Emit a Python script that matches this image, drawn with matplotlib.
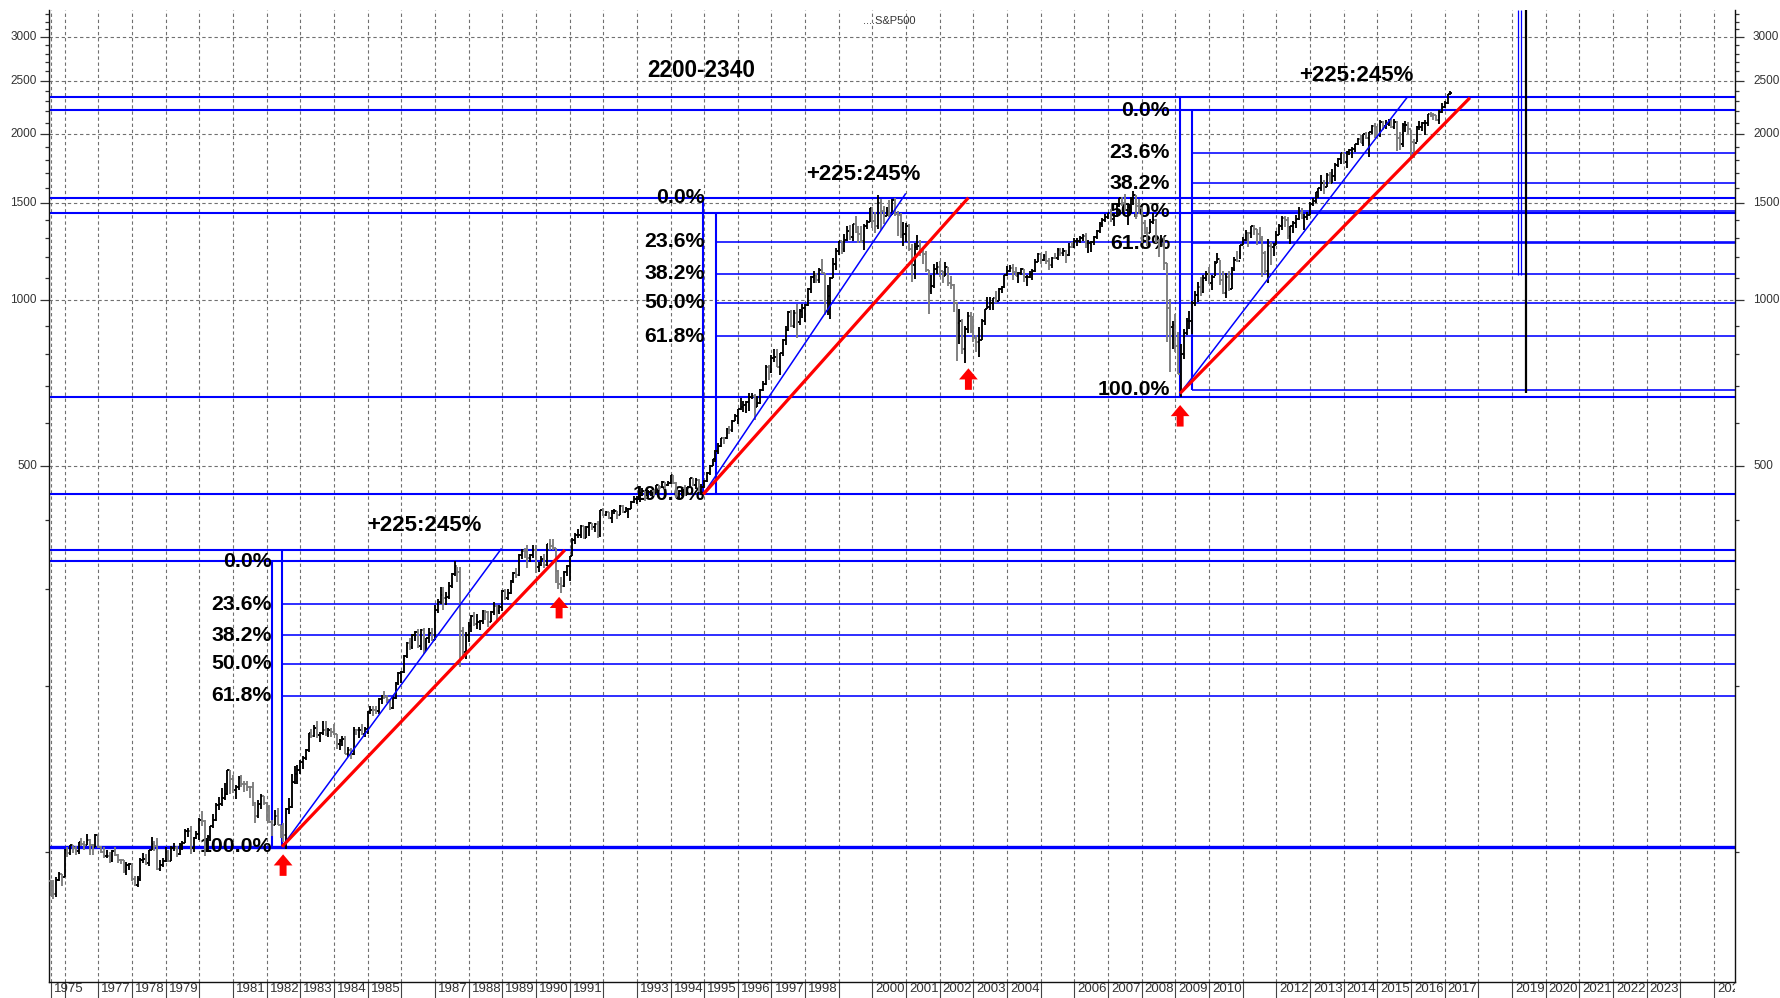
import numpy as np
import matplotlib
matplotlib.use("Agg")
import matplotlib.pyplot as plt
from matplotlib.collections import LineCollection
from matplotlib.ticker import FixedLocator, NullFormatter
from matplotlib.transforms import Bbox, TransformedBbox, blended_transform_factory

plt.rcParams['font.family'] = ['Liberation Sans', 'DejaVu Sans']

# ---------------- data: S&P500 monthly bars (Aug 1975 .. Mar 2017) ----------------
start_year, start_month = 1975, 8
first_open = 88.75

month_close = [
    86.9, 83.9, 89.0, 91.2, 90.2,
    100.9, 99.7, 102.8, 101.6, 100.2, 104.3, 103.4, 102.9, 105.2, 102.9, 102.1, 107.5,
    102.0, 99.8, 98.4, 98.4, 96.1, 100.5, 98.9, 96.8, 96.5, 92.3, 94.8, 95.1,
    89.3, 87.0, 89.2, 96.8, 97.2, 95.5, 100.7, 103.3, 102.5, 93.2, 94.7, 96.1,
    99.9, 96.3, 101.6, 101.8, 99.1, 102.9, 103.8, 109.3, 109.3, 101.8, 106.2, 107.9,
    114.2, 113.7, 102.1, 106.3, 111.2, 114.2, 121.7, 122.4, 125.5, 127.5, 140.5, 135.8,
    129.6, 131.3, 136.0, 132.8, 132.6, 131.2, 130.9, 122.8, 116.2, 121.9, 126.4, 122.6,
    120.4, 113.1, 112.0, 116.4, 111.9, 109.6, 107.1, 119.5, 120.4, 133.7, 138.5, 140.6,
    145.3, 148.1, 153.0, 164.4, 162.4, 168.1, 162.6, 164.4, 166.1, 163.6, 166.4, 164.9,
    163.4, 157.1, 159.2, 160.1, 150.6, 153.2, 150.7, 166.7, 166.1, 166.1, 163.6, 167.2,
    179.6, 181.2, 180.7, 179.8, 189.6, 191.9, 190.9, 188.6, 182.1, 189.8, 202.2, 211.3,
    211.8, 226.9, 238.9, 235.5, 247.4, 250.8, 236.1, 252.9, 231.3, 244.0, 249.2, 242.2,
    274.1, 284.2, 291.7, 288.4, 290.1, 304.0, 318.7, 329.8, 321.8, 251.8, 230.3, 247.1,
    257.1, 267.8, 258.9, 261.3, 262.2, 273.5, 272.0, 261.5, 271.9, 279.0, 273.7, 277.7,
    297.5, 288.9, 294.9, 309.6, 320.5, 318.0, 346.1, 351.5, 349.2, 340.4, 346.0, 353.4,
    329.1, 331.9, 339.9, 330.8, 361.2, 358.0, 356.2, 322.6, 306.1, 304.0, 322.2, 330.2,
    343.9, 367.1, 375.2, 375.4, 389.8, 371.2, 387.8, 395.4, 387.9, 392.5, 375.2, 417.1,
    408.8, 412.7, 403.7, 415.0, 415.4, 408.1, 424.2, 414.0, 417.8, 418.7, 431.4, 435.7,
    438.8, 443.4, 451.7, 440.2, 450.2, 450.5, 448.1, 463.6, 458.9, 467.8, 461.8, 466.5,
    481.6, 467.1, 445.8, 450.9, 456.5, 444.3, 458.3, 475.5, 462.7, 472.4, 453.7, 459.3,
    470.4, 487.4, 500.7, 514.7, 533.4, 544.8, 562.1, 561.9, 584.4, 581.5, 605.4, 615.9,
    636.0, 640.4, 645.5, 654.2, 669.1, 670.6, 640.0, 652.0, 687.3, 705.3, 757.0, 740.7,
    786.2, 790.8, 757.1, 801.3, 848.3, 885.1, 954.3, 899.5, 947.3, 914.6, 955.4, 970.4,
    980.3, 1049.3, 1101.8, 1111.8, 1090.8, 1133.8, 1120.7, 957.3, 1017.0, 1098.7, 1163.6, 1229.2,
    1279.6, 1238.3, 1286.4, 1335.2, 1301.8, 1372.7, 1328.7, 1320.4, 1282.7, 1362.9, 1388.9, 1469.3,
    1394.5, 1366.4, 1498.6, 1452.4, 1420.6, 1454.6, 1430.8, 1517.7, 1436.5, 1429.4, 1315.0, 1320.3,
    1366.0, 1239.9, 1160.3, 1249.5, 1255.8, 1224.4, 1211.2, 1133.6, 1040.9, 1059.8, 1139.5, 1148.1,
    1130.2, 1106.7, 1147.4, 1076.9, 1067.1, 989.8, 911.6, 916.1, 815.3, 885.8, 936.3, 879.8,
    855.7, 841.2, 848.2, 916.9, 963.6, 974.5, 990.3, 1008.0, 996.0, 1050.7, 1058.2, 1111.9,
    1131.1, 1144.9, 1126.2, 1107.3, 1120.7, 1140.8, 1101.7, 1104.2, 1114.6, 1130.2, 1173.8, 1211.9,
    1181.3, 1203.6, 1180.6, 1156.9, 1191.5, 1191.3, 1234.2, 1220.3, 1228.8, 1207.0, 1249.5, 1248.3,
    1280.1, 1280.7, 1294.8, 1310.6, 1270.1, 1270.2, 1276.7, 1303.8, 1335.9, 1377.9, 1400.6, 1418.3,
    1438.2, 1406.8, 1420.9, 1482.4, 1530.6, 1503.4, 1455.3, 1474.0, 1526.8, 1549.4, 1481.1, 1468.4,
    1378.6, 1330.6, 1322.7, 1385.6, 1400.4, 1280.0, 1267.4, 1282.8, 1166.4, 968.8, 896.2, 903.3,
    825.9, 735.1, 797.9, 872.8, 919.1, 919.3, 987.5, 1020.6, 1057.1, 1036.2, 1095.6, 1115.1,
    1073.9, 1104.5, 1169.4, 1186.7, 1089.4, 1030.7, 1101.6, 1049.3, 1141.2, 1183.3, 1180.6, 1257.6,
    1286.1, 1327.2, 1325.8, 1363.6, 1345.2, 1320.6, 1292.3, 1218.9, 1131.4, 1253.3, 1247.0, 1257.6,
    1312.4, 1365.7, 1408.5, 1397.9, 1310.3, 1362.2, 1379.3, 1406.6, 1440.7, 1412.2, 1416.2, 1426.2,
    1498.1, 1514.7, 1569.2, 1597.6, 1630.7, 1606.3, 1685.7, 1633.0, 1681.6, 1756.5, 1805.8, 1848.4,
    1782.6, 1859.5, 1872.3, 1884.0, 1923.6, 1960.2, 1930.7, 2003.4, 1972.3, 2018.1, 2067.6, 2058.9,
    1995.0, 2104.5, 2067.9, 2085.5, 2107.4, 2063.1, 2103.8, 1972.2, 1920.0, 2079.4, 2080.4, 2043.9,
    1940.2, 1932.2, 2059.7, 2065.3, 2097.0, 2098.9, 2173.6, 2171.0, 2168.3, 2126.2, 2198.8, 2238.8,
    2278.9, 2363.6, 2375.0,
]

month_high = [
    89.0, 88.9, 90.0, 92.0, 91.3,
    101.3, 102.0, 103.0, 103.0, 102.6, 104.4, 105.9, 104.6, 107.8, 105.4, 103.2, 107.8,
    107.9, 102.3, 102.0, 101.0, 100.0, 101.0, 101.9, 99.2, 97.2, 96.5, 96.0, 95.5,
    95.1, 90.3, 90.4, 97.4, 99.7, 99.3, 101.0, 106.3, 104.8, 106.0, 96.5, 97.5,
    101.9, 100.7, 102.5, 104.0, 102.6, 103.8, 104.7, 109.9, 110.7, 111.3, 106.3, 109.1,
    115.2, 118.4, 114.1, 107.2, 111.6, 117.1, 122.5, 126.0, 130.4, 133.2, 141.0, 140.7,
    138.1, 132.0, 137.1, 138.1, 134.3, 134.2, 131.5, 133.9, 123.0, 124.0, 127.3, 126.5,
    123.0, 121.4, 114.4, 119.3, 119.9, 112.0, 112.8, 120.0, 125.0, 138.2, 143.1, 143.7,
    146.7, 149.4, 153.7, 164.4, 167.0, 170.0, 172.7, 165.0, 172.7, 172.7, 168.1, 167.7,
    170.4, 163.9, 160.2, 162.4, 162.1, 155.0, 154.4, 168.3, 167.4, 168.6, 170.4, 168.4,
    180.3, 183.9, 183.9, 183.6, 190.0, 192.5, 196.0, 192.9, 189.2, 191.5, 203.0, 212.0,
    213.0, 227.5, 240.0, 244.7, 248.0, 251.8, 253.3, 253.7, 254.9, 244.7, 254.9, 254.9,
    280.0, 287.7, 301.9, 301.9, 296.3, 308.9, 320.0, 336.8, 328.9, 328.0, 255.7, 250.0,
    261.1, 268.5, 272.0, 270.0, 263.8, 275.0, 274.0, 273.0, 273.0, 283.7, 280.0, 279.8,
    298.0, 300.1, 299.4, 311.0, 321.4, 327.0, 347.0, 354.0, 355.5, 360.0, 347.3, 359.8,
    360.6, 336.1, 344.5, 347.3, 362.3, 368.9, 369.8, 356.2, 324.0, 315.0, 323.0, 330.8,
    344.3, 370.7, 378.4, 385.6, 391.3, 389.9, 390.3, 396.6, 395.4, 394.2, 398.3, 417.1,
    420.8, 414.9, 412.7, 416.3, 419.0, 415.4, 424.8, 425.1, 422.4, 420.0, 432.2, 441.3,
    442.7, 449.6, 456.7, 451.7, 453.5, 453.9, 452.5, 463.6, 463.6, 470.6, 469.1, 471.3,
    482.9, 482.9, 468.5, 453.9, 458.3, 462.2, 459.3, 476.6, 476.3, 475.6, 474.0, 464.0,
    472.7, 489.2, 503.2, 515.3, 535.6, 551.1, 564.0, 565.1, 586.0, 590.7, 607.7, 622.9,
    636.2, 664.6, 656.7, 656.8, 680.3, 680.3, 675.9, 670.7, 690.9, 714.1, 762.1, 762.1,
    794.7, 817.4, 814.9, 804.1, 851.3, 898.7, 957.7, 961.3, 960.5, 983.1, 964.6, 986.3,
    986.4, 1051.0, 1105.8, 1130.5, 1122.1, 1145.2, 1190.6, 1121.0, 1066.1, 1102.5, 1192.0, 1244.9,
    1283.5, 1282.4, 1317.6, 1362.0, 1370.1, 1372.8, 1420.3, 1366.3, 1362.3, 1375.0, 1401.1, 1473.0,
    1478.0, 1444.6, 1552.9, 1527.2, 1481.5, 1477.0, 1517.3, 1525.2, 1530.1, 1454.8, 1438.5, 1389.0,
    1383.4, 1376.9, 1267.4, 1269.3, 1315.9, 1286.6, 1239.8, 1226.3, 1135.5, 1110.6, 1163.4, 1173.0,
    1176.6, 1130.2, 1173.0, 1147.8, 1106.6, 1070.8, 994.5, 965.0, 924.0, 900.1, 951.0, 954.3,
    935.1, 864.6, 895.9, 924.2, 965.4, 1015.3, 1015.4, 1011.0, 1040.3, 1053.8, 1063.7, 1112.6,
    1155.4, 1158.9, 1163.2, 1150.6, 1127.7, 1146.3, 1140.8, 1109.7, 1131.5, 1142.1, 1188.5, 1217.9,
    1217.8, 1212.4, 1229.1, 1192.2, 1199.6, 1219.6, 1245.2, 1245.9, 1243.1, 1233.3, 1270.6, 1275.8,
    1294.9, 1297.6, 1310.9, 1318.2, 1326.7, 1284.0, 1280.4, 1306.7, 1340.3, 1389.5, 1407.9, 1431.8,
    1441.6, 1461.6, 1438.9, 1498.0, 1535.6, 1540.6, 1555.9, 1503.9, 1538.7, 1576.1, 1552.8, 1523.6,
    1471.8, 1396.0, 1359.7, 1404.6, 1440.2, 1404.1, 1292.2, 1313.2, 1303.0, 1167.0, 1007.5, 918.9,
    943.9, 877.0, 833.0, 888.7, 930.2, 956.2, 996.7, 1039.5, 1080.2, 1101.4, 1113.7, 1130.4,
    1150.5, 1112.4, 1180.7, 1219.8, 1183.5, 1131.2, 1121.0, 1129.2, 1148.9, 1196.1, 1227.1, 1262.6,
    1302.7, 1344.1, 1332.3, 1364.6, 1370.6, 1345.2, 1356.5, 1307.4, 1229.3, 1292.7, 1277.6, 1269.4,
    1333.5, 1378.0, 1419.2, 1422.4, 1415.3, 1363.5, 1391.7, 1426.7, 1474.5, 1471.0, 1434.3, 1448.0,
    1509.9, 1530.9, 1570.3, 1597.6, 1687.2, 1654.2, 1698.8, 1709.7, 1729.9, 1775.2, 1813.6, 1849.4,
    1850.8, 1867.9, 1884.0, 1897.3, 1924.0, 1968.2, 1991.4, 2005.0, 2019.3, 2018.2, 2075.8, 2093.6,
    2072.4, 2119.6, 2117.5, 2125.9, 2134.7, 2129.9, 2132.8, 2112.7, 2020.9, 2094.3, 2116.5, 2104.3,
    2038.2, 1963.0, 2072.2, 2111.1, 2103.5, 2120.6, 2177.1, 2193.8, 2187.9, 2169.6, 2214.1, 2277.5,
    2301.0, 2371.5, 2401.0,
]

month_low = [
    83.1, 82.1, 82.9, 88.4, 86.8,
    90.0, 98.0, 98.8, 99.6, 98.9, 99.2, 102.7, 101.0, 102.9, 98.8, 98.8, 102.1,
    101.8, 99.5, 97.5, 97.5, 95.5, 95.9, 98.5, 95.5, 95.0, 91.6, 90.7, 92.7,
    88.6, 86.9, 86.4, 88.5, 95.6, 94.6, 94.4, 100.7, 100.5, 92.7, 92.5, 94.0,
    96.0, 95.7, 96.1, 100.5, 98.1, 98.8, 100.8, 103.7, 106.3, 99.0, 99.9, 105.7,
    104.9, 111.2, 98.2, 100.5, 104.8, 110.4, 114.0, 119.2, 121.3, 124.2, 127.0, 127.4,
    128.0, 124.7, 129.7, 131.3, 128.4, 129.2, 125.4, 121.3, 112.8, 115.0, 119.7, 121.4,
    114.0, 112.9, 106.9, 111.8, 111.7, 105.9, 104.4, 101.4, 117.3, 120.0, 132.9, 132.9,
    138.3, 141.1, 147.0, 151.6, 161.0, 161.3, 160.8, 158.0, 163.2, 162.0, 161.6, 161.5,
    162.9, 153.8, 153.0, 155.9, 150.5, 148.9, 147.3, 150.1, 162.7, 161.0, 162.6, 161.5,
    163.4, 177.5, 176.5, 177.9, 177.5, 185.7, 189.6, 186.5, 180.7, 181.7, 189.6, 200.7,
    202.6, 210.9, 224.4, 232.3, 233.7, 240.9, 233.8, 232.6, 228.8, 230.9, 239.4, 241.3,
    242.2, 271.4, 281.4, 274.3, 280.5, 287.6, 301.3, 316.7, 308.6, 216.5, 223.9, 223.9,
    240.2, 250.4, 256.9, 253.3, 252.2, 259.3, 263.4, 256.0, 261.2, 268.8, 263.0, 270.5,
    273.8, 285.8, 286.0, 294.0, 307.0, 314.0, 317.0, 339.0, 341.0, 327.1, 336.0, 341.6,
    320.3, 322.1, 330.0, 327.8, 330.0, 352.0, 352.8, 307.4, 300.1, 294.5, 301.8, 316.3,
    309.4, 343.9, 362.2, 371.0, 370.8, 368.6, 370.8, 374.1, 383.6, 379.9, 371.4, 372.8,
    406.6, 406.6, 401.1, 394.5, 409.8, 401.2, 408.1, 410.9, 413.5, 402.7, 418.0, 429.2,
    427.9, 430.2, 442.6, 433.5, 437.3, 441.8, 441.4, 447.0, 452.6, 456.9, 454.4, 460.7,
    463.9, 464.3, 437.5, 435.9, 442.5, 442.9, 443.0, 457.3, 460.6, 455.5, 449.0, 443.8,
    457.2, 469.3, 481.5, 500.2, 510.3, 526.0, 542.5, 549.1, 560.5, 571.8, 576.8, 603.7,
    597.3, 633.7, 627.6, 624.4, 630.1, 662.5, 605.9, 639.5, 649.5, 684.8, 703.1, 716.7,
    737.0, 773.4, 756.6, 733.5, 793.2, 829.8, 879.0, 896.1, 891.7, 855.3, 903.7, 930.3,
    912.8, 975.0, 1032.0, 1076.7, 1074.4, 1074.6, 1114.3, 939.9, 939.9, 923.3, 1096.0, 1132.9,
    1206.2, 1212.2, 1223.5, 1282.8, 1287.0, 1279.6, 1325.5, 1268.6, 1268.4, 1233.7, 1349.4, 1385.3,
    1350.1, 1325.1, 1346.6, 1339.4, 1373.9, 1420.6, 1413.9, 1425.4, 1419.4, 1305.8, 1294.9, 1254.1,
    1274.6, 1228.4, 1081.2, 1091.9, 1232.0, 1203.0, 1165.5, 1124.9, 944.8, 1026.8, 1054.3, 1114.3,
    1101.1, 1074.4, 1106.7, 1063.5, 1048.9, 952.9, 775.7, 833.4, 800.2, 768.6, 872.0, 872.0,
    840.3, 806.3, 788.9, 847.9, 902.8, 963.6, 962.1, 960.8, 990.4, 996.0, 1031.2, 1053.4,
    1105.1, 1124.4, 1087.2, 1105.9, 1076.3, 1113.3, 1078.8, 1060.7, 1099.2, 1090.2, 1127.6, 1173.0,
    1163.8, 1180.0, 1163.7, 1136.2, 1146.2, 1188.3, 1183.6, 1201.1, 1205.4, 1168.2, 1201.1, 1246.6,
    1245.7, 1253.6, 1268.4, 1280.7, 1245.3, 1219.3, 1224.5, 1261.3, 1290.9, 1327.1, 1360.9, 1385.9,
    1404.0, 1389.4, 1364.0, 1416.4, 1476.7, 1484.2, 1454.3, 1370.6, 1439.3, 1489.6, 1406.1, 1435.6,
    1270.1, 1316.8, 1257.0, 1324.4, 1373.1, 1272.0, 1200.4, 1247.5, 1133.5, 839.8, 741.0, 815.7,
    804.5, 734.5, 666.8, 783.3, 866.1, 888.9, 869.3, 978.5, 992.3, 1020.2, 1029.4, 1085.9,
    1071.6, 1044.5, 1105.2, 1170.7, 1065.8, 1028.3, 1010.9, 1039.7, 1048.2, 1131.9, 1173.0, 1186.6,
    1257.6, 1282.9, 1249.1, 1294.7, 1311.8, 1258.1, 1282.9, 1101.5, 1114.2, 1074.8, 1158.7, 1202.4,
    1258.9, 1312.4, 1340.0, 1357.4, 1292.0, 1266.7, 1325.4, 1354.7, 1396.6, 1403.3, 1343.4, 1398.1,
    1426.2, 1485.0, 1501.5, 1536.0, 1581.3, 1560.3, 1604.6, 1627.5, 1633.4, 1646.5, 1746.2, 1768.0,
    1770.5, 1737.9, 1834.4, 1814.4, 1859.8, 1916.0, 1930.7, 1904.8, 1964.0, 1820.7, 2001.0, 1972.6,
    1988.1, 1980.9, 2039.7, 2048.4, 2067.9, 2056.3, 2044.0, 1867.0, 1871.9, 1893.7, 2019.4, 1993.3,
    1812.3, 1810.1, 1937.1, 2033.8, 2025.9, 1991.7, 2074.0, 2147.6, 2119.1, 2114.7, 2083.8, 2187.4,
    2233.6, 2271.7, 2360.0,
]

# axis labels
ytick_values = [500, 1000, 1500, 2000, 2500, 3000]
ytick_labels = ['500', '1000', '1500', '2000', '2500', '3000']
yminor_values = [v for v in range(100, 3400, 100) if v not in ytick_values]
xlabel_years = [1975.583, 1977, 1978, 1979, 1981, 1982, 1983, 1984, 1985, 1987, 1988,
                1989, 1990, 1991, 1993, 1994, 1995, 1996, 1997, 1998, 2000, 2001, 2002,
                2003, 2004, 2006, 2007, 2008, 2009, 2010, 2012, 2013, 2014, 2015, 2016,
                2017, 2019, 2020, 2021, 2022, 2023, 2025]
xlabel_texts = ['1975', '1977', '1978', '1979', '1981', '1982', '1983', '1984', '1985',
                '1987', '1988', '1989', '1990', '1991', '1993', '1994', '1995', '1996',
                '1997', '1998', '2000', '2001', '2002', '2003', '2004', '2006', '2007',
                '2008', '2009', '2010', '2012', '2013', '2014', '2015', '2016', '2017',
                '2019', '2020', '2021', '2022', '2023', '2025']
xgrid_years = [1975.583] + list(range(1976, 2026))

# annotation levels (Fibonacci tools)
full_levels = [2340, 2213, 1535, 1438, 668.6, 445, 352.6, 336.77]
base_level = 102.2
fib_high = [336.77, 1535.0, 2213.0]
fib_low = [102.2, 445.0, 688.0]
fib_ratios = [0.236, 0.382, 0.5, 0.618]
fib_names = ['0.0%', '23.6%', '38.2%', '50.0%', '61.8%', '100.0%']
fib_v1_year = [1982.15, 1994.96, 2009.14]
fib_v1_range = [(102.2, 336.77), (445, 1535), (668.6, 2340)]
fib_v2_year = [1982.45, 1995.34, 2009.48]
fib_v2_range = [(102.2, 352.6), (445, 1445), (688, 2213)]
fib_label_year = [1982.15, 1995.02, 2008.84]

# trend lines from the lows
trend_start = [(1982.457, 102.2), (1994.974, 445.0), (2009.136, 678.0)]
trend_blue_end = [(1988.98, 355.0), (2000.99, 1563.0), (2015.90, 2340.0)]
trend_red_end = [(1990.86, 352.6), (2002.85, 1535.0), (2017.75, 2330.0)]

# red arrows (tips)
arrow_years = [1982.49, 1990.69, 2002.85, 2009.14]
arrow_values = [99.0, 290.0, 753.0, 646.0]

# texts
target_text = ('2200-2340', 1994.91, 2616)
ratio_text = '+225:245%'
ratio_pos = [(1986.68, 391), (1999.74, 1688), (2014.38, 2554)]

# right-side markers
right_blue_years = [2019.19, 2019.26]
right_blue_bottom = 1113
right_black_year = 2019.41
right_black_bottom = 679

# ---------------- figure ----------------
W, H = 1781, 998
fig = plt.figure(figsize=(W / 100, H / 100), dpi=100)
ax_l, ax_r, ax_t, ax_b = 49, 1735, 10, 982
ax = fig.add_axes([ax_l / W, (H - ax_b) / H, (ax_r - ax_l) / W, (ax_b - ax_t) / H])
ax.set_yscale('log')
XMIN, XMAX = 1975.5354, 2025.6245
YMIN, YMAX = 58.1, 3360.7
ax.set_xlim(XMIN, XMAX)
ax.set_ylim(YMIN, YMAX)

BLUE = '#0000ff'
RED = '#ff0000'
GRID = '#707070'

# spines
ax.spines['top'].set_visible(False)
for s in ['left', 'right', 'bottom']:
    ax.spines[s].set_color('#111111')
    ax.spines[s].set_linewidth(1.0)

# ticks
ax.set_xticks([])
ax.yaxis.set_major_locator(FixedLocator(ytick_values))
ax.yaxis.set_minor_locator(FixedLocator(yminor_values))
ax.yaxis.set_major_formatter(NullFormatter())
ax.yaxis.set_minor_formatter(NullFormatter())
ax.tick_params(axis='y', which='major', direction='out', length=6.5, width=0.9,
               color='#333333', left=True, right=True, labelleft=False, labelright=False)
ax.tick_params(axis='y', which='minor', direction='out', length=3.0, width=0.9,
               color='#333333', left=True, right=True)

ytrans = blended_transform_factory(ax.transAxes, ax.transData)
axw = ax_r - ax_l
for v, lab in zip(ytick_values, ytick_labels):
    ax.text(-12 / axw, v, lab, transform=ytrans, ha='right', va='center',
            fontsize=8.5, color='#333333')
    ax.text(1 + 18 / axw, v, lab, transform=ytrans, ha='left', va='center',
            fontsize=8.5, color='#333333')

# grid
for yr in xgrid_years:
    ax.axvline(yr, color=GRID, lw=0.8, ls=(0, (3, 2.5)), zorder=1)
for v in ytick_values:
    ax.axhline(v, color=GRID, lw=0.8, ls=(0, (3, 2.5)), zorder=1)

# x label row
xtrans = blended_transform_factory(ax.transData, ax.transAxes)
axh = ax_b - ax_t
clip_bb = TransformedBbox(Bbox([[0, -0.2], [1, 1]]), ax.transAxes)
for yr in xgrid_years:
    ax.plot([yr, yr], [0, -16 / axh], transform=xtrans, clip_on=False,
            color='#444444', lw=0.8, zorder=1)
for yr, lab in zip(xlabel_years, xlabel_texts):
    t = ax.text(yr + 3 / 33.66, -6.5 / axh, lab, transform=xtrans, ha='left', va='center',
                fontsize=9.5, color='#333333',
                family=['Liberation Sans Narrow', 'Liberation Sans', 'DejaVu Sans'])
    t.set_clip_path(None)
    t.set_clip_box(clip_bb)
    t.set_clip_on(True)

# blue horizontal levels
ax.hlines(full_levels, XMIN, XMAX, colors=BLUE, lw=1.5, zorder=2)
ax.hlines([base_level], XMIN, XMAX, colors=BLUE, lw=2.4, zorder=2)
for i in range(3):
    hi, lo = fib_high[i], fib_low[i]
    lvls = [hi - r * (hi - lo) for r in fib_ratios] + [lo]
    ax.hlines(lvls, fib_v2_year[i], XMAX, colors=BLUE, lw=1.15, zorder=2)
    ax.vlines(fib_v1_year[i], fib_v1_range[i][0], fib_v1_range[i][1], colors=BLUE, lw=1.5, zorder=2)
    ax.vlines(fib_v2_year[i], fib_v2_range[i][0], fib_v2_range[i][1], colors=BLUE, lw=1.5, zorder=2)
    label_vals = [hi] + [hi - r * (hi - lo) for r in fib_ratios] + [lo]
    for name, lv in zip(fib_names, label_vals):
        ax.text(fib_label_year[i], lv, name, ha='right', va='center', fontsize=15.3,
                fontweight='bold', color='black', zorder=3)

# right side markers
ax.vlines(right_blue_years, right_blue_bottom, YMAX, colors=BLUE, lw=0.9, zorder=2)
ax.vlines(right_black_year, right_black_bottom, YMAX, colors='black', lw=1.6, zorder=2)

# OHLC bars
opens = [first_open] + month_close[:-1]
n = min(len(month_close), len(month_high), len(month_low))
xs = [start_year + (start_month - 1 + k) / 12.0 for k in range(n)]
tick = 1.4 / 33.66
segs_up, segs_dn = [], []
for k in range(n):
    x = xs[k]
    o, hgh, lw_, c = opens[k], month_high[k], month_low[k], month_close[k]
    seg = [[(x, lw_), (x, hgh)], [(x - tick, o), (x, o)], [(x, c), (x + tick, c)]]
    (segs_up if c >= o else segs_dn).extend(seg)
ax.add_collection(LineCollection(segs_dn, colors='#7c7c7c', linewidths=1.35, zorder=4))
ax.add_collection(LineCollection(segs_up, colors='#000000', linewidths=1.35, zorder=4))

# trend lines
for s, b, r in zip(trend_start, trend_blue_end, trend_red_end):
    ax.plot([s[0], b[0]], [s[1], b[1]], color=BLUE, lw=1.1, zorder=5, solid_capstyle='butt')
    ax.plot([s[0], r[0]], [s[1], r[1]], color=RED, lw=2.3, zorder=5, solid_capstyle='butt')

# arrows
for x, v in zip(arrow_years, arrow_values):
    ax.annotate('', xy=(x, v), xytext=(0, -15.5), textcoords='offset points',
                arrowprops=dict(arrowstyle='simple,head_length=0.8,head_width=1.35,tail_width=0.5',
                                mutation_scale=10, fc=RED, ec=RED, lw=0,
                                shrinkA=0, shrinkB=0), zorder=6)

# texts
ax.text(target_text[1], target_text[2], target_text[0], ha='center', va='center',
        fontsize=16.3, fontweight='bold', color='black', zorder=6)
for x, v in ratio_pos:
    ax.text(x, v, ratio_text, ha='center', va='center', fontsize=16,
            fontweight='bold', color='black', zorder=6)
ax.text((863 - ax_l) / axw, 1 - 10.7 / axh, '....S&P500', transform=ax.transAxes,
        ha='left', va='center', fontsize=8, color='#333333')

fig.savefig('out.png', dpi=100)
